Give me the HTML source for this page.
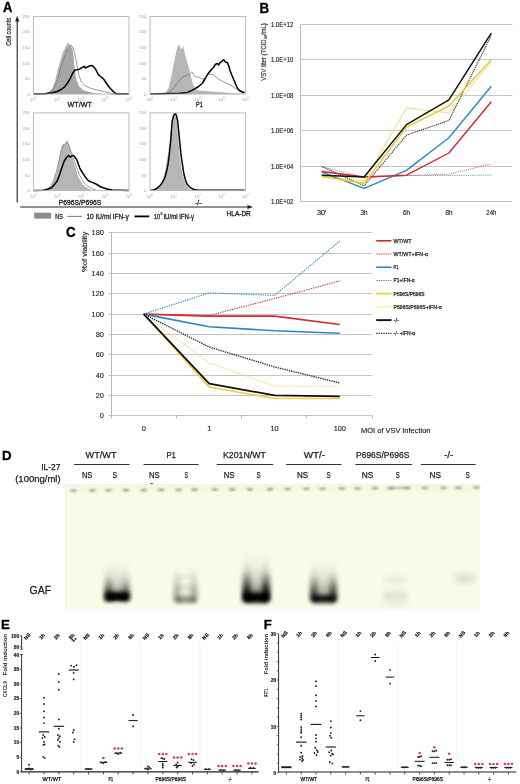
<!DOCTYPE html>
<html><head><meta charset="utf-8"><title>Figure</title>
<style>
html,body{margin:0;padding:0;background:#fff;}
body{width:520px;height:784px;overflow:hidden;}
svg{display:block;will-change:transform;filter:blur(0.3px);}
text{font-family:"Liberation Sans", sans-serif;}
</style></head><body>
<svg width="520" height="784" viewBox="0 0 520 784">
<rect x="0" y="0" width="520" height="784" fill="#fff"/>
<text x="3" y="12.3" font-size="13.8" fill="#000" stroke="#000" stroke-width="0.35" font-weight="bold" textLength="9.4" lengthAdjust="spacingAndGlyphs">A</text>
<line x1="17.2" y1="20" x2="17.2" y2="202.4" stroke="#222" stroke-width="1.1"/>
<polygon points="17.2,15.8 15.1,21.5 19.3,21.5" fill="#222"/>
<text x="11.2" y="31.9" font-size="7.2" fill="#222" stroke="#222" stroke-width="0.2" text-anchor="middle" textLength="27.8" lengthAdjust="spacingAndGlyphs" transform="rotate(-90 11.2 31.9)">Cell counts</text>
<line x1="20.2" y1="207" x2="249" y2="207" stroke="#222" stroke-width="1.1"/>
<polygon points="253,207 247.5,204.9 247.5,209.1" fill="#222"/>
<text x="238.7" y="216.4" font-size="6.8" fill="#222" stroke="#222" stroke-width="0.3" text-anchor="middle" textLength="24.2" lengthAdjust="spacingAndGlyphs">HLA-DR</text>
<text x="29.8" y="17.9" font-size="4.4" fill="#a0a0a0" text-anchor="end">250</text>
<text x="29.8" y="33.44" font-size="4.4" fill="#a0a0a0" text-anchor="end">200</text>
<text x="29.8" y="48.98" font-size="4.4" fill="#a0a0a0" text-anchor="end">150</text>
<text x="29.8" y="64.52" font-size="4.4" fill="#a0a0a0" text-anchor="end">100</text>
<text x="29.8" y="80.06" font-size="4.4" fill="#a0a0a0" text-anchor="end">50</text>
<text x="29.8" y="95.6" font-size="4.4" fill="#a0a0a0" text-anchor="end">0</text>
<text x="32.4" y="101.1" font-size="4.2" fill="#a0a0a0" text-anchor="middle">10</text>
<text x="34.8" y="99.3" font-size="2.8" fill="#a0a0a0">0</text>
<text x="56.3" y="101.1" font-size="4.2" fill="#a0a0a0" text-anchor="middle">10</text>
<text x="58.7" y="99.3" font-size="2.8" fill="#a0a0a0">1</text>
<text x="80.2" y="101.1" font-size="4.2" fill="#a0a0a0" text-anchor="middle">10</text>
<text x="82.6" y="99.3" font-size="2.8" fill="#a0a0a0">2</text>
<text x="104.1" y="101.1" font-size="4.2" fill="#a0a0a0" text-anchor="middle">10</text>
<text x="106.5" y="99.3" font-size="2.8" fill="#a0a0a0">3</text>
<text x="128" y="101.1" font-size="4.2" fill="#a0a0a0" text-anchor="middle">10</text>
<text x="130.4" y="99.3" font-size="2.8" fill="#a0a0a0">4</text>
<text x="146.4" y="17.9" font-size="4.4" fill="#a0a0a0" text-anchor="end">250</text>
<text x="146.4" y="33.44" font-size="4.4" fill="#a0a0a0" text-anchor="end">200</text>
<text x="146.4" y="48.98" font-size="4.4" fill="#a0a0a0" text-anchor="end">150</text>
<text x="146.4" y="64.52" font-size="4.4" fill="#a0a0a0" text-anchor="end">100</text>
<text x="146.4" y="80.06" font-size="4.4" fill="#a0a0a0" text-anchor="end">50</text>
<text x="146.4" y="95.6" font-size="4.4" fill="#a0a0a0" text-anchor="end">0</text>
<text x="149" y="101.1" font-size="4.2" fill="#a0a0a0" text-anchor="middle">10</text>
<text x="151.4" y="99.3" font-size="2.8" fill="#a0a0a0">0</text>
<text x="172.9" y="101.1" font-size="4.2" fill="#a0a0a0" text-anchor="middle">10</text>
<text x="175.3" y="99.3" font-size="2.8" fill="#a0a0a0">1</text>
<text x="196.8" y="101.1" font-size="4.2" fill="#a0a0a0" text-anchor="middle">10</text>
<text x="199.2" y="99.3" font-size="2.8" fill="#a0a0a0">2</text>
<text x="220.7" y="101.1" font-size="4.2" fill="#a0a0a0" text-anchor="middle">10</text>
<text x="223.1" y="99.3" font-size="2.8" fill="#a0a0a0">3</text>
<text x="244.6" y="101.1" font-size="4.2" fill="#a0a0a0" text-anchor="middle">10</text>
<text x="247" y="99.3" font-size="2.8" fill="#a0a0a0">4</text>
<text x="29.8" y="114.4" font-size="4.4" fill="#a0a0a0" text-anchor="end">250</text>
<text x="29.8" y="129.94" font-size="4.4" fill="#a0a0a0" text-anchor="end">200</text>
<text x="29.8" y="145.48" font-size="4.4" fill="#a0a0a0" text-anchor="end">150</text>
<text x="29.8" y="161.02" font-size="4.4" fill="#a0a0a0" text-anchor="end">100</text>
<text x="29.8" y="176.56" font-size="4.4" fill="#a0a0a0" text-anchor="end">50</text>
<text x="29.8" y="192.1" font-size="4.4" fill="#a0a0a0" text-anchor="end">0</text>
<text x="32.4" y="197.6" font-size="4.2" fill="#a0a0a0" text-anchor="middle">10</text>
<text x="34.8" y="195.8" font-size="2.8" fill="#a0a0a0">0</text>
<text x="56.3" y="197.6" font-size="4.2" fill="#a0a0a0" text-anchor="middle">10</text>
<text x="58.7" y="195.8" font-size="2.8" fill="#a0a0a0">1</text>
<text x="80.2" y="197.6" font-size="4.2" fill="#a0a0a0" text-anchor="middle">10</text>
<text x="82.6" y="195.8" font-size="2.8" fill="#a0a0a0">2</text>
<text x="104.1" y="197.6" font-size="4.2" fill="#a0a0a0" text-anchor="middle">10</text>
<text x="106.5" y="195.8" font-size="2.8" fill="#a0a0a0">3</text>
<text x="128" y="197.6" font-size="4.2" fill="#a0a0a0" text-anchor="middle">10</text>
<text x="130.4" y="195.8" font-size="2.8" fill="#a0a0a0">4</text>
<text x="146.4" y="114.4" font-size="4.4" fill="#a0a0a0" text-anchor="end">250</text>
<text x="146.4" y="129.94" font-size="4.4" fill="#a0a0a0" text-anchor="end">200</text>
<text x="146.4" y="145.48" font-size="4.4" fill="#a0a0a0" text-anchor="end">150</text>
<text x="146.4" y="161.02" font-size="4.4" fill="#a0a0a0" text-anchor="end">100</text>
<text x="146.4" y="176.56" font-size="4.4" fill="#a0a0a0" text-anchor="end">50</text>
<text x="146.4" y="192.1" font-size="4.4" fill="#a0a0a0" text-anchor="end">0</text>
<text x="149" y="197.6" font-size="4.2" fill="#a0a0a0" text-anchor="middle">10</text>
<text x="151.4" y="195.8" font-size="2.8" fill="#a0a0a0">0</text>
<text x="172.9" y="197.6" font-size="4.2" fill="#a0a0a0" text-anchor="middle">10</text>
<text x="175.3" y="195.8" font-size="2.8" fill="#a0a0a0">1</text>
<text x="196.8" y="197.6" font-size="4.2" fill="#a0a0a0" text-anchor="middle">10</text>
<text x="199.2" y="195.8" font-size="2.8" fill="#a0a0a0">2</text>
<text x="220.7" y="197.6" font-size="4.2" fill="#a0a0a0" text-anchor="middle">10</text>
<text x="223.1" y="195.8" font-size="2.8" fill="#a0a0a0">3</text>
<text x="244.6" y="197.6" font-size="4.2" fill="#a0a0a0" text-anchor="middle">10</text>
<text x="247" y="195.8" font-size="2.8" fill="#a0a0a0">4</text>
<polygon points="44.2,94.1 44.2,94.1 48,92.5 51.7,89.6 54.5,83 57.3,71 60.5,60 62.9,52.3 65.5,47 68.1,42 70,45.5 72.2,48.6 73.2,55 74,63.5 75.9,78.4 78.7,85.9 83.4,90.6 94.6,93.4 104,94.1 104,94.1" fill="#b6b6b6"/>
<polygon points="44.45,94.1 44.45,94.03 44.7,93.96 44.95,93.89 45.2,93.82 45.45,93.76 45.7,93.69 45.95,93.62 46.2,93.55 46.45,93.48 46.7,93.41 46.95,93.34 47.2,93.27 47.45,93.2 47.7,93.13 47.95,93.07 48.2,93 48.45,92.93 48.7,92.86 48.95,92.79 49.2,92.72 49.45,92.65 49.7,92.58 49.95,92.51 50.2,92.26 50.45,91.95 50.7,91.64 50.95,91.34 51.2,91.03 51.45,90.73 51.7,90.42 51.95,90.12 52.2,89.81 52.45,89.51 52.7,89.2 52.95,88.89 53.2,88.59 53.45,88.28 53.7,87.98 53.95,87.67 54.2,87.37 54.45,87.06 54.7,86.49 54.95,85.84 55.2,85.2 55.45,84.56 55.7,83.91 55.95,83.27 56.2,82.63 56.45,81.99 56.7,81.34 56.95,80.7 57.2,80.06 57.45,79.41 57.7,78.77 57.95,78.13 58.2,77.27 58.45,76.35 58.7,75.43 58.95,74.52 59.2,73.6 59.45,72.68 59.7,71.77 59.95,70.85 60.2,69.93 60.45,69.02 60.7,68.1 60.95,67.18 61.2,66.36 61.45,65.56 61.7,64.76 61.95,63.96 62.2,63.16 62.45,62.36 62.7,61.56 62.95,60.76 63.2,59.96 63.45,59.16 63.7,58.44 63.95,57.74 64.2,57.04 64.45,56.34 64.7,55.64 64.95,54.94 65.2,54.24 65.45,53.54 65.7,52.84 65.95,52.14 66.2,51.64 66.45,51.19 66.7,50.74 66.95,50.29 67.2,49.84 67.45,49.39 67.7,48.94 67.95,48.49 68.2,48.04 68.45,47.59 68.7,47.31 68.95,47.07 69.2,46.83 69.45,46.59 69.7,46.34 69.95,46.1 70.2,45.86 70.45,46.13 70.7,46.49 70.95,46.84 71.2,47.19 71.45,47.54 71.7,47.9 71.95,48.25 72.2,48.6 72.45,50.2 72.7,51.8 72.95,53.4 73.2,55 73.45,57.66 73.7,60.31 73.95,62.97 74.2,65.07 74.45,67.03 74.7,68.99 74.95,70.95 75.2,72.91 75.45,74.87 75.7,76.83 75.95,78.53 76.2,79.2 76.45,79.87 76.7,80.54 76.95,81.21 77.2,81.88 77.45,82.55 77.7,83.22 77.95,83.89 78.2,84.56 78.45,85.23 78.7,85.9 78.95,86.15 79.2,86.4 79.45,86.65 79.7,86.9 79.95,87.15 80.2,87.4 80.45,87.65 80.7,87.9 80.95,88.15 81.2,88.4 81.45,88.65 81.7,88.9 81.95,89.15 82.2,89.4 82.45,89.65 82.7,89.9 82.95,90.15 83.2,90.4 83.45,90.61 83.7,90.67 83.95,90.74 84.2,90.8 84.45,90.86 84.7,90.92 84.95,90.99 85.2,91.05 85.45,91.11 85.7,91.17 85.95,91.24 86.2,91.3 86.45,91.36 86.7,91.42 86.95,91.49 87.2,91.55 87.45,91.61 87.7,91.67 87.95,91.74 88.2,91.8 88.45,91.86 88.7,91.92 88.95,91.99 89.2,92.05 89.45,92.11 89.7,92.17 89.95,92.24 90.2,92.3 90.45,92.36 90.7,92.42 90.95,92.49 91.2,92.55 91.45,92.61 91.7,92.68 91.95,92.74 92.2,92.8 92.45,92.86 92.7,92.93 92.95,92.99 93.2,93.05 93.45,93.11 93.7,93.18 93.95,93.24 94.2,93.3 94.45,93.36 94.7,93.41 94.95,93.43 95.2,93.44 95.45,93.46 95.7,93.48 95.95,93.5 96.2,93.52 96.45,93.54 96.7,93.56 96.95,93.58 97.2,93.59 97.45,93.61 97.7,93.63 97.95,93.65 98.2,93.67 98.45,93.69 98.7,93.71 98.95,93.72 99.2,93.74 99.45,93.76 99.7,93.78 99.95,93.8 100.2,93.82 100.45,93.84 100.7,93.85 100.95,93.87 101.2,93.89 101.45,93.91 101.7,93.93 101.95,93.95 102.2,93.97 102.45,93.98 102.7,94 102.95,94.02 103.2,94.04 103.45,94.06 103.7,94.08 103.95,94.1 103.95,94.1" fill="#a6a6a6"/>
<polyline points="44.2,94.1 50,92.5 54.5,87 58,78 61,67 63.5,59 66,52 68.5,47.5 71.2,44.9 73,48 74.5,53 75.9,59.8 77.3,67 78.7,74.7 81.5,82.2 85,85.6 89,87.8 96,89.8 104,91.5 110,93 115,94.1" fill="none" stroke="#6e6e6e" stroke-width="0.7" stroke-linejoin="round"/>
<polyline points="33.6,94.1 45,93.8 52,92.8 57.3,91.5 61,89.5 64.7,86.8 67.5,83 70.3,78.4 72.5,73.5 75,70 77.3,69.8 79.6,69.1 82,67.5 84.3,66.3 85.5,68 87.1,67.2 89.5,66 91.8,65.4 93.7,66.8 95.5,69.1 97,72 98.3,74.7 100.5,76.5 103,78.4 105.3,81.5 107.6,85 110,88 112.3,90.6 115,93 117,94.1 128.8,94.1" fill="none" stroke="#000" stroke-width="1.5" stroke-linejoin="round"/>
<polygon points="164.9,94.1 164.9,94.1 168.7,87.8 170.5,80 172.4,71 174.3,61 176.1,52.3 177.5,47 178.9,43.9 180.3,47.5 181.7,49.5 183.2,45.8 184.3,51 185.4,56 187.3,62.5 189.2,69.1 191,76.5 192.9,84 195.7,89.6 198.5,90.6 206,91 215,91.8 224.6,92.4 235,93.2 243.3,94.1 243.3,94.1" fill="#b6b6b6"/>
<polyline points="164.9,94.1 168.7,92.5 172.4,89.6 175.2,86 178,82.2 180.8,79 183.6,76.6 186.4,75.5 189.2,74.7 190.6,73 192,71.9 193.4,74.5 194.8,76.6 196.6,77 198.5,77.2 201.3,78.5 204.1,79.4 205.5,77 206.9,74.7 210,74.2 213.4,74.7 216.2,77 219,79.4 221.8,80.8 224.6,82.2 228.3,84 232,85.9 235,88 237.7,89.6 240.5,91.5 243.3,92.5 245,93" fill="none" stroke="#6e6e6e" stroke-width="0.7" stroke-linejoin="round"/>
<polyline points="150.2,94.1 170,93.6 180,93.2 187.3,92.4 191,90.8 194.8,88.9 198.5,86.5 202.2,83.5 205,79 207.8,74 210.6,70.5 213.4,67.5 215.3,64.5 217.2,63.5 218.6,65 220,62.6 221.8,61.5 223.7,59.8 225.5,62 227.4,62.6 228.8,66 230.2,71 232,75.5 234,80.3 235.8,84.5 237.7,88.7 239.5,90.5 241.4,91.5 243,92.5 244.6,92.2" fill="none" stroke="#000" stroke-width="1.5" stroke-linejoin="round"/>
<polygon points="44.2,190.5 44.2,190.5 48,188.5 51.5,185.4 54,180 56.2,173.8 57.4,168 58.5,162.3 59.7,155.5 60.8,149.6 61.8,146 62.5,144.4 64,143.8 65.5,144.2 66.5,141.5 67.1,138.5 67.8,142 68.8,144.4 70,148 71.2,153 73,159 74.6,164.6 76.3,170.5 78,176.2 80.3,180.5 82.7,184.2 85.5,186.8 88.5,188.8 92,190.5 92,190.5" fill="#b6b6b6"/>
<polyline points="46,190.5 50,187.5 53.5,181 56.5,171 59,160 61,151 63,146 65,143.5 67,142 69,145.5 71,151 73,157 75,163 77.5,170 79.6,175 82,179.5 84.5,183 87.1,185.8 90,187.8 93,189 97,190.5" fill="none" stroke="#7a7a7a" stroke-width="0.7" stroke-linejoin="round"/>
<polyline points="33.6,190.4 42,190.2 44.6,190 48,189 51.5,187.7 54.5,184.5 57.3,180.8 59.5,175 61.3,169.2 62.8,165 64.2,161.2 66.2,158 68.3,155.4 69.5,156.5 70.6,157.1 72,155.8 73.5,155.4 75.2,157.5 76.9,160 78.3,164 79.8,168.1 81.5,171 83.3,173.8 85.3,177 87.3,179.6 89,181 90.8,181.9 93,182.6 95.4,183.7 97.7,185 100,186.5 103,187.8 107,189 112,190 128.8,190.4" fill="none" stroke="#000" stroke-width="1.5" stroke-linejoin="round"/>
<polygon points="153,190.5 153,190.5 156,189 159,186.5 161.5,183 163.5,178 165.5,171 167,163 168.3,155 169.5,146 170.5,136 171.5,126 172.5,119 173.5,115.5 174.5,114.2 175.5,116.5 176.5,121 177.3,128 178,136 178.7,145 179.5,153 180.3,160 181.3,167 182.5,173.5 184,179 185.5,183.5 187.5,187 190,189.3 193,190.5 193,190.5" fill="#b6b6b6"/>
<polyline points="154.5,190.5 158,188 161,184.5 163.5,179 165.5,172 167.2,163 168.7,153 170,142 171.2,131 172.4,121 173.6,116 174.8,114 176,117 177.2,123 178.2,131 179.1,140 180,149 181,158 182,165 183.3,172 185,178.5 187,183.5 189.5,187 192.5,189.3 196,190.5" fill="none" stroke="#888" stroke-width="0.7" stroke-linejoin="round"/>
<polyline points="150.2,190.4 154.3,189.7 157,188.2 159.8,185.9 162,183 164.1,179.4 165.5,175.5 166.8,170.7 168,164.5 169,157.7 169.8,150 170.6,142.5 171.4,131 172.2,120.8 173.5,116 174.5,114 175.5,113.6 176.5,115.5 177.7,120.8 178.5,129 179.3,137.1 180.1,145 180.9,153.4 181.7,159 182.5,164.2 183.3,170 184.2,175.1 185.5,180 186.9,183.8 189,186.5 191.2,188.1 194,189.5 197.7,190.3 244.6,190.3" fill="none" stroke="#000" stroke-width="1.4" stroke-linejoin="round"/>
<rect x="33.4" y="16.4" width="95.6" height="77.7" fill="none" stroke="#b4b4b4" stroke-width="0.9"/>
<rect x="150" y="16.4" width="95.6" height="77.7" fill="none" stroke="#b4b4b4" stroke-width="0.9"/>
<rect x="33.4" y="112.9" width="95.6" height="77.7" fill="none" stroke="#b4b4b4" stroke-width="0.9"/>
<rect x="150" y="112.9" width="95.6" height="77.7" fill="none" stroke="#b4b4b4" stroke-width="0.9"/>
<text x="79.7" y="107.4" font-size="7.2" fill="#222" stroke="#222" stroke-width="0.3" text-anchor="middle" textLength="24.4" lengthAdjust="spacingAndGlyphs">WT/WT</text>
<text x="199.4" y="107.4" font-size="7.2" fill="#222" stroke="#222" stroke-width="0.3" text-anchor="middle" textLength="6.6" lengthAdjust="spacingAndGlyphs">P1</text>
<text x="80" y="205" font-size="7.2" fill="#222" stroke="#222" stroke-width="0.3" text-anchor="middle" textLength="42.5" lengthAdjust="spacingAndGlyphs">P696S/P696S</text>
<text x="198.2" y="205" font-size="7.2" fill="#222" stroke="#222" stroke-width="0.3" text-anchor="middle" textLength="6.5" lengthAdjust="spacingAndGlyphs">-/-</text>
<rect x="34.1" y="212.7" width="17.1" height="5.9" fill="#8c8c8c"/>
<text x="55.3" y="218.6" font-size="7.2" fill="#222" stroke="#222" stroke-width="0.3" textLength="7.4" lengthAdjust="spacingAndGlyphs">NS</text>
<line x1="67.3" y1="216.4" x2="82" y2="216.4" stroke="#444" stroke-width="0.7"/>
<text x="86.4" y="218.6" font-size="7.2" fill="#222" stroke="#222" stroke-width="0.3" textLength="42.4" lengthAdjust="spacingAndGlyphs">10 IU/ml IFN-γ</text>
<line x1="134.5" y1="216.4" x2="149.2" y2="216.4" stroke="#000" stroke-width="1.8"/>
<text x="154.1" y="218.6" font-size="7.2" fill="#222" stroke="#222" stroke-width="0.3" textLength="6" lengthAdjust="spacingAndGlyphs">10</text>
<text x="160.3" y="215.2" font-size="4" fill="#222" stroke="#222" stroke-width="0.2">3</text>
<text x="163.4" y="218.6" font-size="7.2" fill="#222" stroke="#222" stroke-width="0.3" textLength="30.6" lengthAdjust="spacingAndGlyphs">IU/ml IFN-γ</text>
<text x="259.6" y="12.6" font-size="13.8" fill="#000" stroke="#000" stroke-width="0.35" font-weight="bold" textLength="9.6" lengthAdjust="spacingAndGlyphs">B</text>
<line x1="300.5" y1="24.5" x2="512.4" y2="24.5" stroke="#c6c6c6" stroke-width="1"/>
<text x="293.3" y="26.9" font-size="6.8" fill="#222" stroke="#222" stroke-width="0.15" text-anchor="end" textLength="22.4" lengthAdjust="spacingAndGlyphs">1.0E+12</text>
<line x1="300.5" y1="59.5" x2="512.4" y2="59.5" stroke="#c6c6c6" stroke-width="1"/>
<text x="293.3" y="61.9" font-size="6.8" fill="#222" stroke="#222" stroke-width="0.15" text-anchor="end" textLength="22.4" lengthAdjust="spacingAndGlyphs">1.0E+10</text>
<line x1="300.5" y1="95.5" x2="512.4" y2="95.5" stroke="#c6c6c6" stroke-width="1"/>
<text x="293.3" y="97.9" font-size="6.8" fill="#222" stroke="#222" stroke-width="0.15" text-anchor="end" textLength="22.4" lengthAdjust="spacingAndGlyphs">1.0E+08</text>
<line x1="300.5" y1="130.5" x2="512.4" y2="130.5" stroke="#c6c6c6" stroke-width="1"/>
<text x="293.3" y="132.9" font-size="6.8" fill="#222" stroke="#222" stroke-width="0.15" text-anchor="end" textLength="22.4" lengthAdjust="spacingAndGlyphs">1.0E+06</text>
<line x1="300.5" y1="166.5" x2="512.4" y2="166.5" stroke="#c6c6c6" stroke-width="1"/>
<text x="293.3" y="168.9" font-size="6.8" fill="#222" stroke="#222" stroke-width="0.15" text-anchor="end" textLength="22.4" lengthAdjust="spacingAndGlyphs">1.0E+04</text>
<line x1="300.5" y1="201.5" x2="512.4" y2="201.5" stroke="#c6c6c6" stroke-width="1"/>
<text x="293.3" y="203.9" font-size="6.8" fill="#222" stroke="#222" stroke-width="0.15" text-anchor="end" textLength="22.4" lengthAdjust="spacingAndGlyphs">1.0E+02</text>
<line x1="300.5" y1="24.5" x2="300.5" y2="202" stroke="#bdbdbd" stroke-width="1"/>
<text x="0" y="0" font-size="6.8" fill="#222" stroke="#222" stroke-width="0.12" transform="translate(265.9 52) rotate(-90)" text-anchor="middle" textLength="57.6" lengthAdjust="spacingAndGlyphs">VSV titer (TCID<tspan font-size="4.2" dy="1.5">50</tspan><tspan dy="-1.5">/mL)</tspan></text>
<text x="321.7" y="215.2" font-size="6.8" fill="#222" stroke="#222" stroke-width="0.15" text-anchor="middle" textLength="9.5" lengthAdjust="spacingAndGlyphs">30'</text>
<text x="364.1" y="215.2" font-size="6.8" fill="#222" stroke="#222" stroke-width="0.15" text-anchor="middle" textLength="7" lengthAdjust="spacingAndGlyphs">3h</text>
<text x="406.5" y="215.2" font-size="6.8" fill="#222" stroke="#222" stroke-width="0.15" text-anchor="middle" textLength="7" lengthAdjust="spacingAndGlyphs">6h</text>
<text x="448.9" y="215.2" font-size="6.8" fill="#222" stroke="#222" stroke-width="0.15" text-anchor="middle" textLength="7" lengthAdjust="spacingAndGlyphs">8h</text>
<text x="491.3" y="215.2" font-size="6.8" fill="#222" stroke="#222" stroke-width="0.15" text-anchor="middle" textLength="10" lengthAdjust="spacingAndGlyphs">24h</text>
<polyline points="321.7,166.8 364.1,177.2 406.5,175.5 448.9,175.5 491.3,175.2" fill="none" stroke="#3a9ac9" stroke-width="0.9" stroke-linejoin="round" stroke-dasharray="1.1 1.1" stroke-linecap="butt"/>
<polyline points="321.7,170.9 364.1,177.2 406.5,175.5 448.9,174.2 491.3,163.9" fill="none" stroke="#c8505a" stroke-width="0.9" stroke-linejoin="round" stroke-dasharray="1.1 1.1" stroke-linecap="butt"/>
<polyline points="321.7,176.2 364.1,181 406.5,107.9 448.9,113 491.3,62" fill="none" stroke="#eee09a" stroke-width="1.1" stroke-linejoin="round"/>
<polyline points="321.7,166.4 364.1,185.8 406.5,135.2 448.9,120.4 491.3,35.5" fill="none" stroke="#222" stroke-width="1.1" stroke-linejoin="round" stroke-dasharray="1.1 0.9" stroke-linecap="butt"/>
<polyline points="321.7,172.2 364.1,188.4 406.5,170.4 448.9,137.7 491.3,86.2" fill="none" stroke="#2a88c0" stroke-width="1.4" stroke-linejoin="round"/>
<polyline points="321.7,171.5 364.1,177 406.5,175.2 448.9,153 491.3,101.8" fill="none" stroke="#d8262a" stroke-width="1.4" stroke-linejoin="round"/>
<polyline points="321.7,176.5 364.1,183.4 406.5,127.1 448.9,106 491.3,59.8" fill="none" stroke="#eccb35" stroke-width="1.6" stroke-linejoin="round"/>
<polyline points="321.7,175.3 364.1,177 406.5,124.6 448.9,99.8 491.3,33.1" fill="none" stroke="#111" stroke-width="1.5" stroke-linejoin="round"/>
<text x="66" y="237.2" font-size="13.8" fill="#000" stroke="#000" stroke-width="0.35" font-weight="bold" textLength="9.6" lengthAdjust="spacingAndGlyphs">C</text>
<line x1="108.5" y1="415.5" x2="372.3" y2="415.5" stroke="#c4c4c4" stroke-width="1"/>
<text x="103.9" y="418.1" font-size="7.4" fill="#222" stroke="#222" stroke-width="0.12" text-anchor="end">0</text>
<line x1="108.5" y1="395.5" x2="372.3" y2="395.5" stroke="#c4c4c4" stroke-width="1"/>
<text x="103.9" y="398.1" font-size="7.4" fill="#222" stroke="#222" stroke-width="0.12" text-anchor="end">20</text>
<line x1="108.5" y1="375.5" x2="372.3" y2="375.5" stroke="#c4c4c4" stroke-width="1"/>
<text x="103.9" y="378.1" font-size="7.4" fill="#222" stroke="#222" stroke-width="0.12" text-anchor="end">40</text>
<line x1="108.5" y1="354.5" x2="372.3" y2="354.5" stroke="#c4c4c4" stroke-width="1"/>
<text x="103.9" y="357.1" font-size="7.4" fill="#222" stroke="#222" stroke-width="0.12" text-anchor="end">60</text>
<line x1="108.5" y1="334.5" x2="372.3" y2="334.5" stroke="#c4c4c4" stroke-width="1"/>
<text x="103.9" y="337.1" font-size="7.4" fill="#222" stroke="#222" stroke-width="0.12" text-anchor="end">80</text>
<line x1="108.5" y1="314.5" x2="372.3" y2="314.5" stroke="#c4c4c4" stroke-width="1"/>
<text x="103.9" y="317.1" font-size="7.4" fill="#222" stroke="#222" stroke-width="0.12" text-anchor="end">100</text>
<line x1="108.5" y1="293.5" x2="372.3" y2="293.5" stroke="#c4c4c4" stroke-width="1"/>
<text x="103.9" y="296.1" font-size="7.4" fill="#222" stroke="#222" stroke-width="0.12" text-anchor="end">120</text>
<line x1="108.5" y1="273.5" x2="372.3" y2="273.5" stroke="#c4c4c4" stroke-width="1"/>
<text x="103.9" y="276.1" font-size="7.4" fill="#222" stroke="#222" stroke-width="0.12" text-anchor="end">140</text>
<line x1="108.5" y1="253.5" x2="372.3" y2="253.5" stroke="#c4c4c4" stroke-width="1"/>
<text x="103.9" y="256.1" font-size="7.4" fill="#222" stroke="#222" stroke-width="0.12" text-anchor="end">160</text>
<line x1="108.5" y1="232.5" x2="372.3" y2="232.5" stroke="#c4c4c4" stroke-width="1"/>
<text x="103.9" y="235.1" font-size="7.4" fill="#222" stroke="#222" stroke-width="0.12" text-anchor="end">180</text>
<line x1="111.5" y1="232.5" x2="111.5" y2="418" stroke="#b8b8b8" stroke-width="1"/>
<line x1="111.5" y1="415.5" x2="111.5" y2="418.5" stroke="#b8b8b8" stroke-width="1"/>
<line x1="176.5" y1="415.5" x2="176.5" y2="418.5" stroke="#b8b8b8" stroke-width="1"/>
<line x1="241.5" y1="415.5" x2="241.5" y2="418.5" stroke="#b8b8b8" stroke-width="1"/>
<line x1="306.5" y1="415.5" x2="306.5" y2="418.5" stroke="#b8b8b8" stroke-width="1"/>
<line x1="372.5" y1="415.5" x2="372.5" y2="418.5" stroke="#b8b8b8" stroke-width="1"/>
<text x="143.7" y="431" font-size="7.4" fill="#222" stroke="#222" stroke-width="0.12" text-anchor="middle">0</text>
<text x="209.2" y="431" font-size="7.4" fill="#222" stroke="#222" stroke-width="0.12" text-anchor="middle">1</text>
<text x="274.6" y="431" font-size="7.4" fill="#222" stroke="#222" stroke-width="0.12" text-anchor="middle">10</text>
<text x="339.8" y="431" font-size="7.4" fill="#222" stroke="#222" stroke-width="0.12" text-anchor="middle">100</text>
<text x="361" y="433.2" font-size="7.2" fill="#222" stroke="#222" stroke-width="0.15" textLength="69.5" lengthAdjust="spacingAndGlyphs">MOI of VSV infection</text>
<text x="86.7" y="251.9" font-size="7" fill="#222" stroke="#222" stroke-width="0.15" text-anchor="middle" textLength="40.4" lengthAdjust="spacingAndGlyphs" transform="rotate(-90 86.7 251.9)">%of viability</text>
<polyline points="143.7,314.1 209.2,292.87 274.6,295.41 339.8,240.95" fill="none" stroke="#2f86c2" stroke-width="1.1" stroke-linejoin="round" stroke-dasharray="1.3 1.1"/>
<polyline points="143.7,314.1 209.2,315.42 274.6,298.56 339.8,280.88" fill="none" stroke="#d0303a" stroke-width="1.1" stroke-linejoin="round" stroke-dasharray="1.3 1.1"/>
<polyline points="143.7,314.1 209.2,316.13 274.6,316.13 339.8,324.56" fill="none" stroke="#d42a2a" stroke-width="1.6" stroke-linejoin="round"/>
<polyline points="143.7,314.1 209.2,326.8 274.6,330.76 339.8,333.2" fill="none" stroke="#2a86c2" stroke-width="1.6" stroke-linejoin="round"/>
<polyline points="143.7,314.1 209.2,347.02 274.6,366.93 339.8,382.98" fill="none" stroke="#1a1a1a" stroke-width="1.3" stroke-linejoin="round" stroke-dasharray="1.3 1.0"/>
<polyline points="143.7,314.1 209.2,362.97 274.6,386.24 339.8,386.24" fill="none" stroke="#ead67a" stroke-width="1.1" stroke-linejoin="round" stroke-dasharray="1.3 1.1"/>
<polyline points="143.7,314.1 209.2,387.05 274.6,398.43 339.8,398.43" fill="none" stroke="#ecce45" stroke-width="1.6" stroke-linejoin="round"/>
<polyline points="143.7,314.1 209.2,383.7 274.6,395.38 339.8,396.29" fill="none" stroke="#111" stroke-width="1.8" stroke-linejoin="round"/>
<line x1="376.2" y1="240.8" x2="391.5" y2="240.8" stroke="#d42a2a" stroke-width="1.6"/>
<text x="393.6" y="242.8" font-size="5.7" fill="#222" stroke="#222" stroke-width="0.25" textLength="18" lengthAdjust="spacingAndGlyphs">WT/WT</text>
<line x1="376.2" y1="254.02" x2="391.5" y2="254.02" stroke="#d0303a" stroke-width="1.1" stroke-dasharray="1.3 1.1"/>
<text x="393.6" y="256.02" font-size="5.7" fill="#222" stroke="#222" stroke-width="0.25" textLength="34.4" lengthAdjust="spacingAndGlyphs">WT/WT+IFN-α</text>
<line x1="376.2" y1="267.24" x2="391.5" y2="267.24" stroke="#2a86c2" stroke-width="1.6"/>
<text x="393.6" y="269.24" font-size="5.7" fill="#222" stroke="#222" stroke-width="0.25" textLength="5" lengthAdjust="spacingAndGlyphs">P1</text>
<line x1="376.2" y1="280.46" x2="391.5" y2="280.46" stroke="#2f86c2" stroke-width="1.1" stroke-dasharray="1.3 1.1"/>
<text x="393.6" y="282.46" font-size="5.7" fill="#222" stroke="#222" stroke-width="0.25" textLength="21" lengthAdjust="spacingAndGlyphs">P1+IFN-α</text>
<line x1="376.2" y1="293.68" x2="391.5" y2="293.68" stroke="#eccb35" stroke-width="1.7"/>
<text x="393.6" y="295.68" font-size="5.7" fill="#222" stroke="#222" stroke-width="0.25" textLength="31" lengthAdjust="spacingAndGlyphs">P696S/P696S</text>
<line x1="376.2" y1="306.9" x2="391.5" y2="306.9" stroke="#efd75a" stroke-width="1.1" stroke-dasharray="1.3 1.1"/>
<text x="393.6" y="308.9" font-size="5.7" fill="#222" stroke="#222" stroke-width="0.25" textLength="48" lengthAdjust="spacingAndGlyphs">P696S/P696S+IFN-α</text>
<line x1="376.2" y1="320.12" x2="391.5" y2="320.12" stroke="#111" stroke-width="1.9"/>
<text x="393.6" y="322.12" font-size="5.7" fill="#222" stroke="#222" stroke-width="0.25" textLength="5.6" lengthAdjust="spacingAndGlyphs">-/-</text>
<line x1="376.2" y1="333.34" x2="391.5" y2="333.34" stroke="#222" stroke-width="1.1" stroke-dasharray="1.3 1.1"/>
<text x="393.6" y="335.34" font-size="5.7" fill="#222" stroke="#222" stroke-width="0.25" textLength="21.6" lengthAdjust="spacingAndGlyphs">-/- +IFN-α</text>
<text x="2" y="460" font-size="13.6" fill="#000" stroke="#000" stroke-width="0.35" font-weight="bold" textLength="9.6" lengthAdjust="spacingAndGlyphs">D</text>
<text x="60.6" y="470.4" font-size="9" fill="#222" stroke="#222" stroke-width="0.25" text-anchor="end" textLength="19.4" lengthAdjust="spacingAndGlyphs">IL-27</text>
<text x="60.6" y="481.6" font-size="9" fill="#222" stroke="#222" stroke-width="0.25" text-anchor="end" textLength="45.4" lengthAdjust="spacingAndGlyphs">(100ng/ml)</text>
<text x="85.6" y="458.3" font-size="8.9" fill="#222" stroke="#222" stroke-width="0.25" textLength="30.9" lengthAdjust="spacingAndGlyphs">WT/WT</text>
<line x1="74" y1="464.5" x2="129.5" y2="464.5" stroke="#333" stroke-width="1"/>
<text x="82" y="477.6" font-size="9" fill="#222" stroke="#222" stroke-width="0.25" textLength="10.3" lengthAdjust="spacingAndGlyphs">NS</text>
<text x="112.5" y="477.6" font-size="9" fill="#222" stroke="#222" stroke-width="0.25" textLength="4.5" lengthAdjust="spacingAndGlyphs">S</text>
<text x="166.4" y="458.3" font-size="8.9" fill="#222" stroke="#222" stroke-width="0.25" textLength="9.4" lengthAdjust="spacingAndGlyphs">P1</text>
<line x1="143.5" y1="464.5" x2="198.7" y2="464.5" stroke="#333" stroke-width="1"/>
<text x="148.9" y="477.6" font-size="9" fill="#222" stroke="#222" stroke-width="0.25" textLength="10.7" lengthAdjust="spacingAndGlyphs">NS</text>
<text x="184.4" y="477.6" font-size="9" fill="#222" stroke="#222" stroke-width="0.25" textLength="3.5" lengthAdjust="spacingAndGlyphs">S</text>
<text x="222.9" y="458.3" font-size="8.9" fill="#222" stroke="#222" stroke-width="0.25" textLength="43.1" lengthAdjust="spacingAndGlyphs">K201N/WT</text>
<line x1="216.7" y1="464.5" x2="273.2" y2="464.5" stroke="#333" stroke-width="1"/>
<text x="223.7" y="477.6" font-size="9" fill="#222" stroke="#222" stroke-width="0.25" textLength="10.8" lengthAdjust="spacingAndGlyphs">NS</text>
<text x="256.5" y="477.6" font-size="9" fill="#222" stroke="#222" stroke-width="0.25" textLength="4.1" lengthAdjust="spacingAndGlyphs">S</text>
<text x="303.7" y="458.3" font-size="8.9" fill="#222" stroke="#222" stroke-width="0.25" textLength="21.5" lengthAdjust="spacingAndGlyphs">WT/-</text>
<line x1="286.2" y1="464.5" x2="341.5" y2="464.5" stroke="#333" stroke-width="1"/>
<text x="297" y="477.6" font-size="9" fill="#222" stroke="#222" stroke-width="0.25" textLength="11.2" lengthAdjust="spacingAndGlyphs">NS</text>
<text x="326.5" y="477.6" font-size="9" fill="#222" stroke="#222" stroke-width="0.25" textLength="4.1" lengthAdjust="spacingAndGlyphs">S</text>
<text x="356" y="458.3" font-size="8.9" fill="#222" stroke="#222" stroke-width="0.25" textLength="53.3" lengthAdjust="spacingAndGlyphs">P696S/P696S</text>
<line x1="355.4" y1="464.5" x2="412.2" y2="464.5" stroke="#333" stroke-width="1"/>
<text x="361.7" y="477.6" font-size="9" fill="#222" stroke="#222" stroke-width="0.25" textLength="11.6" lengthAdjust="spacingAndGlyphs">NS</text>
<text x="395.8" y="477.6" font-size="9" fill="#222" stroke="#222" stroke-width="0.25" textLength="4" lengthAdjust="spacingAndGlyphs">S</text>
<text x="444" y="458.3" font-size="8.9" fill="#222" stroke="#222" stroke-width="0.25" textLength="9.4" lengthAdjust="spacingAndGlyphs">-/-</text>
<line x1="420.9" y1="464.5" x2="475.7" y2="464.5" stroke="#333" stroke-width="1"/>
<text x="429.5" y="477.6" font-size="9" fill="#222" stroke="#222" stroke-width="0.25" textLength="11.5" lengthAdjust="spacingAndGlyphs">NS</text>
<text x="465.6" y="477.6" font-size="9" fill="#222" stroke="#222" stroke-width="0.25" textLength="4.3" lengthAdjust="spacingAndGlyphs">S</text>
<text x="29.6" y="593.8" font-size="11.8" fill="#222" stroke="#222" stroke-width="0.3" textLength="21.4" lengthAdjust="spacingAndGlyphs">GAF</text>
<defs><filter id="b05" x="-50%" y="-50%" width="200%" height="200%"><feGaussianBlur stdDeviation="0.8"/></filter><filter id="b1" x="-50%" y="-50%" width="200%" height="200%"><feGaussianBlur stdDeviation="1.3"/></filter><filter id="b2" x="-50%" y="-50%" width="200%" height="200%"><feGaussianBlur stdDeviation="2.0"/></filter><filter id="b3" x="-50%" y="-50%" width="200%" height="200%"><feGaussianBlur stdDeviation="3.2"/></filter><linearGradient id="smear" x1="0" y1="0" x2="0" y2="1"><stop offset="0" stop-color="#000" stop-opacity="0"/><stop offset="0.35" stop-color="#000" stop-opacity="0.08"/><stop offset="0.7" stop-color="#000" stop-opacity="0.35"/><stop offset="1" stop-color="#000" stop-opacity="1"/></linearGradient><linearGradient id="side" x1="0" y1="0" x2="0" y2="1"><stop offset="0" stop-color="#000" stop-opacity="0"/><stop offset="0.3" stop-color="#000" stop-opacity="0.08"/><stop offset="0.55" stop-color="#000" stop-opacity="0.45"/><stop offset="0.8" stop-color="#000" stop-opacity="0.88"/><stop offset="1" stop-color="#000" stop-opacity="1"/></linearGradient></defs>
<rect x="65" y="484" width="415" height="124.8" fill="#fafae9"/>
<defs><linearGradient id="topg" x1="0" y1="0" x2="0" y2="1"><stop offset="0" stop-color="#f5f5e4"/><stop offset="0.6" stop-color="#f7f7e6"/><stop offset="1" stop-color="#fafae9"/></linearGradient></defs>
<rect x="65" y="484" width="415" height="10" fill="url(#topg)"/>
<rect x="65" y="484" width="1" height="124.8" fill="#f1f1df"/>
<g filter="url(#b1)">
<ellipse cx="73.5" cy="490.6" rx="3.3" ry="1.1" fill="#3a3a2c" opacity="0.55"/>
<ellipse cx="92.3" cy="490.46" rx="3.3" ry="1.1" fill="#3a3a2c" opacity="0.55"/>
<ellipse cx="108.5" cy="490.34" rx="3.3" ry="1.1" fill="#3a3a2c" opacity="0.55"/>
<ellipse cx="126" cy="490.21" rx="3.3" ry="1.1" fill="#3a3a2c" opacity="0.55"/>
<ellipse cx="143.5" cy="490.08" rx="3.3" ry="1.1" fill="#3a3a2c" opacity="0.55"/>
<ellipse cx="161" cy="489.95" rx="3.3" ry="1.1" fill="#3a3a2c" opacity="0.55"/>
<ellipse cx="178.5" cy="489.82" rx="3.3" ry="1.1" fill="#3a3a2c" opacity="0.55"/>
<ellipse cx="194.6" cy="489.7" rx="3.3" ry="1.1" fill="#3a3a2c" opacity="0.55"/>
<ellipse cx="214.8" cy="489.55" rx="3.3" ry="1.1" fill="#3a3a2c" opacity="0.55"/>
<ellipse cx="232.3" cy="489.42" rx="3.3" ry="1.1" fill="#3a3a2c" opacity="0.55"/>
<ellipse cx="249.8" cy="489.29" rx="3.3" ry="1.1" fill="#3a3a2c" opacity="0.55"/>
<ellipse cx="270" cy="489.14" rx="3.3" ry="1.1" fill="#3a3a2c" opacity="0.55"/>
<ellipse cx="287.5" cy="489.01" rx="3.3" ry="1.1" fill="#3a3a2c" opacity="0.55"/>
<ellipse cx="306.4" cy="488.87" rx="3.3" ry="1.1" fill="#3a3a2c" opacity="0.55"/>
<ellipse cx="322.5" cy="488.75" rx="3.3" ry="1.1" fill="#3a3a2c" opacity="0.55"/>
<ellipse cx="342" cy="488.6" rx="3.3" ry="1.1" fill="#3a3a2c" opacity="0.55"/>
<ellipse cx="357.5" cy="488.49" rx="3.3" ry="1.1" fill="#3a3a2c" opacity="0.55"/>
<ellipse cx="375" cy="488.36" rx="3.3" ry="1.1" fill="#3a3a2c" opacity="0.55"/>
<ellipse cx="390.5" cy="488.24" rx="3.3" ry="1.1" fill="#3a3a2c" opacity="0.55"/>
<ellipse cx="407.5" cy="488.12" rx="3.3" ry="1.1" fill="#3a3a2c" opacity="0.55"/>
<ellipse cx="424.8" cy="487.99" rx="3.3" ry="1.1" fill="#3a3a2c" opacity="0.55"/>
<ellipse cx="443.7" cy="487.85" rx="3.3" ry="1.1" fill="#3a3a2c" opacity="0.55"/>
<ellipse cx="458.5" cy="487.74" rx="3.3" ry="1.1" fill="#3a3a2c" opacity="0.55"/>
<ellipse cx="476.5" cy="487.6" rx="3.3" ry="1.1" fill="#3a3a2c" opacity="0.55"/>
<line x1="390" y1="488" x2="408" y2="487.8" stroke="#3a3a2c" stroke-width="1.4" opacity="0.45"/>
</g>
<line x1="150" y1="483.6" x2="153" y2="483.6" stroke="#555" stroke-width="0.9"/>
<rect x="106" y="558" width="23" height="39" fill="url(#smear)" opacity="0.5" filter="url(#b3)"/>
<rect x="104.5" y="566" width="7.5" height="35" fill="url(#side)" opacity="0.75" filter="url(#b2)"/>
<rect x="122.5" y="568" width="7" height="33" fill="url(#side)" opacity="0.55" filter="url(#b2)"/>
<rect x="105" y="592" width="24.5" height="9" rx="4" fill="#000" opacity="1" filter="url(#b2)"/>
<rect x="108" y="594.5" width="19" height="5.5" rx="2" fill="#000" opacity="0.6" filter="url(#b1)"/>
<rect x="175" y="558" width="21" height="42" fill="url(#smear)" opacity="0.15" filter="url(#b3)"/>
<rect x="173.5" y="560" width="6.5" height="42" fill="url(#side)" opacity="0.3" filter="url(#b2)"/>
<rect x="191" y="560" width="6.5" height="42" fill="url(#side)" opacity="0.3" filter="url(#b2)"/>
<rect x="176" y="574.5" width="19" height="4" rx="2" fill="#000" opacity="0.05" filter="url(#b2)"/>
<rect x="176" y="585" width="19" height="4" rx="2" fill="#000" opacity="0.06" filter="url(#b2)"/>
<rect x="175.5" y="597" width="20" height="6" rx="3" fill="#000" opacity="0.42" filter="url(#b2)"/>
<rect x="244" y="552" width="25" height="42" fill="url(#smear)" opacity="0.5" filter="url(#b3)"/>
<rect x="242.5" y="558" width="8" height="43" fill="url(#side)" opacity="0.98" filter="url(#b2)"/>
<rect x="262" y="558" width="8" height="43" fill="url(#side)" opacity="0.98" filter="url(#b2)"/>
<rect x="243.5" y="592" width="25.5" height="11" rx="4" fill="#000" opacity="1" filter="url(#b2)"/>
<rect x="312" y="556" width="24" height="39" fill="url(#smear)" opacity="0.4" filter="url(#b3)"/>
<rect x="310" y="563" width="7.5" height="38" fill="url(#side)" opacity="0.7" filter="url(#b2)"/>
<rect x="329.5" y="563" width="7.5" height="38" fill="url(#side)" opacity="0.7" filter="url(#b2)"/>
<rect x="311.5" y="594.5" width="24.5" height="8.5" rx="4" fill="#000" opacity="0.92" filter="url(#b2)"/>
<rect x="383" y="566" width="24" height="38" fill="url(#smear)" opacity="0.09" filter="url(#b3)"/>
<rect x="383" y="576" width="24" height="6" rx="2" fill="#000" opacity="0.04" filter="url(#b2)"/>
<rect x="383" y="592" width="24" height="6" rx="2" fill="#000" opacity="0.04" filter="url(#b2)"/>
<ellipse cx="465" cy="578.5" rx="11" ry="5" fill="#000" opacity="0.11" filter="url(#b3)"/>
<text x="1" y="628.9" font-size="13.4" fill="#000" stroke="#000" stroke-width="0.35" font-weight="bold" textLength="8.8" lengthAdjust="spacingAndGlyphs">E</text>
<line x1="81.1" y1="641" x2="81.1" y2="771.5" stroke="#efefef" stroke-width="0.8"/>
<line x1="140.5" y1="641" x2="140.5" y2="771.5" stroke="#efefef" stroke-width="0.8"/>
<line x1="199.9" y1="641" x2="199.9" y2="771.5" stroke="#efefef" stroke-width="0.8"/>
<line x1="21.6" y1="635.5" x2="21.6" y2="649.2" stroke="#333" stroke-width="1"/>
<line x1="21.6" y1="654.5" x2="21.6" y2="772.4" stroke="#333" stroke-width="1"/>
<line x1="20.3" y1="649.2" x2="22.9" y2="649.2" stroke="#333" stroke-width="0.8"/>
<line x1="20.3" y1="654.5" x2="22.9" y2="654.5" stroke="#333" stroke-width="0.8"/>
<text x="19.2" y="637.6" font-size="4.8" fill="#222" stroke="#222" stroke-width="0.2" text-anchor="end" font-weight="bold">100</text>
<line x1="19.8" y1="635.8" x2="21.6" y2="635.8" stroke="#333" stroke-width="0.8"/>
<text x="19.2" y="648.6" font-size="4.8" fill="#222" stroke="#222" stroke-width="0.2" text-anchor="end" font-weight="bold">50</text>
<line x1="19.8" y1="646.8" x2="21.6" y2="646.8" stroke="#333" stroke-width="0.8"/>
<text x="19.2" y="773.7" font-size="4.8" fill="#222" stroke="#222" stroke-width="0.2" text-anchor="end" font-weight="bold">0</text>
<line x1="19.8" y1="771.9" x2="21.6" y2="771.9" stroke="#333" stroke-width="0.8"/>
<text x="19.2" y="759.05" font-size="4.8" fill="#222" stroke="#222" stroke-width="0.2" text-anchor="end" font-weight="bold">5</text>
<line x1="19.8" y1="757.25" x2="21.6" y2="757.25" stroke="#333" stroke-width="0.8"/>
<text x="19.2" y="744.4" font-size="4.8" fill="#222" stroke="#222" stroke-width="0.2" text-anchor="end" font-weight="bold">10</text>
<line x1="19.8" y1="742.6" x2="21.6" y2="742.6" stroke="#333" stroke-width="0.8"/>
<text x="19.2" y="729.75" font-size="4.8" fill="#222" stroke="#222" stroke-width="0.2" text-anchor="end" font-weight="bold">15</text>
<line x1="19.8" y1="727.95" x2="21.6" y2="727.95" stroke="#333" stroke-width="0.8"/>
<text x="19.2" y="715.1" font-size="4.8" fill="#222" stroke="#222" stroke-width="0.2" text-anchor="end" font-weight="bold">20</text>
<line x1="19.8" y1="713.3" x2="21.6" y2="713.3" stroke="#333" stroke-width="0.8"/>
<text x="19.2" y="700.45" font-size="4.8" fill="#222" stroke="#222" stroke-width="0.2" text-anchor="end" font-weight="bold">25</text>
<line x1="19.8" y1="698.65" x2="21.6" y2="698.65" stroke="#333" stroke-width="0.8"/>
<text x="19.2" y="685.8" font-size="4.8" fill="#222" stroke="#222" stroke-width="0.2" text-anchor="end" font-weight="bold">30</text>
<line x1="19.8" y1="684" x2="21.6" y2="684" stroke="#333" stroke-width="0.8"/>
<text x="19.2" y="671.15" font-size="4.8" fill="#222" stroke="#222" stroke-width="0.2" text-anchor="end" font-weight="bold">35</text>
<line x1="19.8" y1="669.35" x2="21.6" y2="669.35" stroke="#333" stroke-width="0.8"/>
<text x="19.2" y="656.5" font-size="4.8" fill="#222" stroke="#222" stroke-width="0.2" text-anchor="end" font-weight="bold">40</text>
<line x1="19.8" y1="654.7" x2="21.6" y2="654.7" stroke="#333" stroke-width="0.8"/>
<line x1="21.6" y1="771.9" x2="258.6" y2="771.9" stroke="#222" stroke-width="1.2"/>
<line x1="29.15" y1="771.9" x2="29.15" y2="774.6" stroke="#333" stroke-width="0.8"/>
<line x1="44" y1="771.9" x2="44" y2="774.6" stroke="#333" stroke-width="0.8"/>
<line x1="58.85" y1="771.9" x2="58.85" y2="774.6" stroke="#333" stroke-width="0.8"/>
<line x1="73.7" y1="771.9" x2="73.7" y2="774.6" stroke="#333" stroke-width="0.8"/>
<line x1="88.55" y1="771.9" x2="88.55" y2="774.6" stroke="#333" stroke-width="0.8"/>
<line x1="103.4" y1="771.9" x2="103.4" y2="774.6" stroke="#333" stroke-width="0.8"/>
<line x1="118.25" y1="771.9" x2="118.25" y2="774.6" stroke="#333" stroke-width="0.8"/>
<line x1="133.1" y1="771.9" x2="133.1" y2="774.6" stroke="#333" stroke-width="0.8"/>
<line x1="147.95" y1="771.9" x2="147.95" y2="774.6" stroke="#333" stroke-width="0.8"/>
<line x1="162.8" y1="771.9" x2="162.8" y2="774.6" stroke="#333" stroke-width="0.8"/>
<line x1="177.65" y1="771.9" x2="177.65" y2="774.6" stroke="#333" stroke-width="0.8"/>
<line x1="192.5" y1="771.9" x2="192.5" y2="774.6" stroke="#333" stroke-width="0.8"/>
<line x1="207.35" y1="771.9" x2="207.35" y2="774.6" stroke="#333" stroke-width="0.8"/>
<line x1="222.2" y1="771.9" x2="222.2" y2="774.6" stroke="#333" stroke-width="0.8"/>
<line x1="237.05" y1="771.9" x2="237.05" y2="774.6" stroke="#333" stroke-width="0.8"/>
<line x1="251.9" y1="771.9" x2="251.9" y2="774.6" stroke="#333" stroke-width="0.8"/>
<text x="51.9" y="780.5" font-size="5.5" fill="#111" stroke="#111" stroke-width="0.25" text-anchor="middle" textLength="18.8" lengthAdjust="spacingAndGlyphs">WT/WT</text>
<text x="110.8" y="780.5" font-size="5.5" fill="#111" stroke="#111" stroke-width="0.25" text-anchor="middle" textLength="4.5" lengthAdjust="spacingAndGlyphs">P1</text>
<text x="170.8" y="780.5" font-size="5.5" fill="#111" stroke="#111" stroke-width="0.25" text-anchor="middle" textLength="30.6" lengthAdjust="spacingAndGlyphs">P696S/P696S</text>
<text x="230" y="780.5" font-size="5.5" fill="#111" stroke="#111" stroke-width="0.25" text-anchor="middle" textLength="3.5" lengthAdjust="spacingAndGlyphs">-/-</text>
<text x="26.95" y="636.3" font-size="5" fill="#111" text-anchor="middle" font-weight="bold" transform="rotate(-45 26.95 636.3)" dominant-baseline="central" stroke="#111" stroke-width="0.2">NS</text>
<text x="41.8" y="636.3" font-size="5" fill="#111" text-anchor="middle" font-weight="bold" transform="rotate(-45 41.8 636.3)" dominant-baseline="central" stroke="#111" stroke-width="0.2">1h</text>
<text x="56.65" y="636.3" font-size="5" fill="#111" text-anchor="middle" font-weight="bold" transform="rotate(-45 56.65 636.3)" dominant-baseline="central" stroke="#111" stroke-width="0.2">2h</text>
<text x="71.5" y="636.3" font-size="5" fill="#111" text-anchor="middle" font-weight="bold" transform="rotate(-45 71.5 636.3)" dominant-baseline="central" stroke="#111" stroke-width="0.2">8h</text>
<text x="86.35" y="636.3" font-size="5" fill="#111" text-anchor="middle" font-weight="bold" transform="rotate(-45 86.35 636.3)" dominant-baseline="central" stroke="#111" stroke-width="0.2">NS</text>
<text x="101.2" y="636.3" font-size="5" fill="#111" text-anchor="middle" font-weight="bold" transform="rotate(-45 101.2 636.3)" dominant-baseline="central" stroke="#111" stroke-width="0.2">1h</text>
<text x="116.05" y="636.3" font-size="5" fill="#111" text-anchor="middle" font-weight="bold" transform="rotate(-45 116.05 636.3)" dominant-baseline="central" stroke="#111" stroke-width="0.2">2h</text>
<text x="130.9" y="636.3" font-size="5" fill="#111" text-anchor="middle" font-weight="bold" transform="rotate(-45 130.9 636.3)" dominant-baseline="central" stroke="#111" stroke-width="0.2">8h</text>
<text x="145.75" y="636.3" font-size="5" fill="#111" text-anchor="middle" font-weight="bold" transform="rotate(-45 145.75 636.3)" dominant-baseline="central" stroke="#111" stroke-width="0.2">NS</text>
<text x="160.6" y="636.3" font-size="5" fill="#111" text-anchor="middle" font-weight="bold" transform="rotate(-45 160.6 636.3)" dominant-baseline="central" stroke="#111" stroke-width="0.2">1h</text>
<text x="175.45" y="636.3" font-size="5" fill="#111" text-anchor="middle" font-weight="bold" transform="rotate(-45 175.45 636.3)" dominant-baseline="central" stroke="#111" stroke-width="0.2">2h</text>
<text x="190.3" y="636.3" font-size="5" fill="#111" text-anchor="middle" font-weight="bold" transform="rotate(-45 190.3 636.3)" dominant-baseline="central" stroke="#111" stroke-width="0.2">8h</text>
<text x="205.15" y="636.3" font-size="5" fill="#111" text-anchor="middle" font-weight="bold" transform="rotate(-45 205.15 636.3)" dominant-baseline="central" stroke="#111" stroke-width="0.2">NS</text>
<text x="220" y="636.3" font-size="5" fill="#111" text-anchor="middle" font-weight="bold" transform="rotate(-45 220 636.3)" dominant-baseline="central" stroke="#111" stroke-width="0.2">1h</text>
<text x="234.85" y="636.3" font-size="5" fill="#111" text-anchor="middle" font-weight="bold" transform="rotate(-45 234.85 636.3)" dominant-baseline="central" stroke="#111" stroke-width="0.2">2h</text>
<text x="249.7" y="636.3" font-size="5" fill="#111" text-anchor="middle" font-weight="bold" transform="rotate(-45 249.7 636.3)" dominant-baseline="central" stroke="#111" stroke-width="0.2">8h</text>
<text x="7" y="654.7" font-size="5.2" fill="#222" text-anchor="middle" font-weight="bold" textLength="41.4" lengthAdjust="spacingAndGlyphs" transform="rotate(-90 7 654.7)">Fold induction</text>
<text x="7" y="689.1" font-size="5.2" fill="#222" text-anchor="middle" font-weight="bold" textLength="16.2" lengthAdjust="spacingAndGlyphs" transform="rotate(-90 7 689.1)">CXCL9</text>
<circle cx="26.15" cy="769" r="0.95" fill="#222"/>
<circle cx="27.65" cy="769" r="0.95" fill="#222"/>
<circle cx="29.15" cy="768.5" r="0.95" fill="#222"/>
<circle cx="30.65" cy="769.5" r="0.95" fill="#222"/>
<circle cx="32.15" cy="769" r="0.95" fill="#222"/>
<circle cx="29.15" cy="764.8" r="0.95" fill="#222"/>
<line x1="24.65" y1="769" x2="33.65" y2="769" stroke="#111" stroke-width="1.2"/>
<circle cx="44" cy="697.8" r="0.95" fill="#222"/>
<circle cx="44" cy="704" r="0.95" fill="#222"/>
<circle cx="44" cy="711.3" r="0.95" fill="#222"/>
<circle cx="44" cy="717.5" r="0.95" fill="#222"/>
<circle cx="44" cy="723.1" r="0.95" fill="#222"/>
<circle cx="43.2" cy="735" r="0.95" fill="#222"/>
<circle cx="44.8" cy="736.9" r="0.95" fill="#222"/>
<circle cx="44" cy="741.9" r="0.95" fill="#222"/>
<circle cx="44.6" cy="744.4" r="0.95" fill="#222"/>
<circle cx="43.2" cy="756.9" r="0.95" fill="#222"/>
<circle cx="44.8" cy="758.1" r="0.95" fill="#222"/>
<circle cx="42.5" cy="738" r="0.95" fill="#222"/>
<circle cx="43.5" cy="745" r="0.95" fill="#222"/>
<line x1="38.7" y1="731.9" x2="49.3" y2="731.9" stroke="#111" stroke-width="1.1"/>
<circle cx="58.85" cy="674" r="0.95" fill="#222"/>
<circle cx="58.85" cy="681.9" r="0.95" fill="#222"/>
<circle cx="58.85" cy="689.8" r="0.95" fill="#222"/>
<circle cx="58.85" cy="719.4" r="0.95" fill="#222"/>
<circle cx="58.85" cy="728.8" r="0.95" fill="#222"/>
<circle cx="57.85" cy="735" r="0.95" fill="#222"/>
<circle cx="59.85" cy="736.3" r="0.95" fill="#222"/>
<circle cx="58.85" cy="738.1" r="0.95" fill="#222"/>
<circle cx="57.85" cy="740" r="0.95" fill="#222"/>
<circle cx="59.85" cy="741.9" r="0.95" fill="#222"/>
<circle cx="58.35" cy="745.6" r="0.95" fill="#222"/>
<circle cx="59.35" cy="746.9" r="0.95" fill="#222"/>
<line x1="53.55" y1="726.3" x2="64.15" y2="726.3" stroke="#111" stroke-width="1.1"/>
<circle cx="71.1" cy="665.6" r="0.95" fill="#222"/>
<circle cx="73.9" cy="666.8" r="0.95" fill="#222"/>
<circle cx="76.5" cy="665.2" r="0.95" fill="#222"/>
<circle cx="73.7" cy="672.9" r="0.95" fill="#222"/>
<circle cx="73.7" cy="679.4" r="0.95" fill="#222"/>
<circle cx="73.7" cy="730" r="0.95" fill="#222"/>
<circle cx="72.9" cy="732.5" r="0.95" fill="#222"/>
<circle cx="74.5" cy="739.4" r="0.95" fill="#222"/>
<circle cx="73.7" cy="741.9" r="0.95" fill="#222"/>
<circle cx="72.2" cy="639.8" r="0.95" fill="#222"/>
<circle cx="74" cy="640.8" r="0.95" fill="#222"/>
<circle cx="75.5" cy="639" r="0.95" fill="#222"/>
<line x1="68.7" y1="670" x2="78.7" y2="670" stroke="#111" stroke-width="1.1"/>
<line x1="84.55" y1="769" x2="92.55" y2="769" stroke="#111" stroke-width="1"/>
<circle cx="86.55" cy="769" r="0.95" fill="#222"/>
<circle cx="88.55" cy="769" r="0.95" fill="#222"/>
<circle cx="90.55" cy="769" r="0.95" fill="#222"/>
<line x1="99.4" y1="762.3" x2="107.4" y2="762.3" stroke="#111" stroke-width="1"/>
<circle cx="101.4" cy="762.5" r="0.95" fill="#222"/>
<circle cx="103.4" cy="763.2" r="0.95" fill="#222"/>
<circle cx="105.4" cy="762" r="0.95" fill="#222"/>
<circle cx="103.4" cy="758.1" r="1.25" fill="#e03a48"/>
<line x1="114.25" y1="753.1" x2="122.25" y2="753.1" stroke="#111" stroke-width="1"/>
<circle cx="116.25" cy="753.3" r="0.95" fill="#222"/>
<circle cx="118.25" cy="754" r="0.95" fill="#222"/>
<circle cx="120.25" cy="752.8" r="0.95" fill="#222"/>
<circle cx="114.65" cy="748.5" r="1.25" fill="#e03a48"/>
<circle cx="118.25" cy="748.5" r="1.25" fill="#e03a48"/>
<circle cx="121.85" cy="748.5" r="1.25" fill="#e03a48"/>
<line x1="128.5" y1="720.6" x2="137.7" y2="720.6" stroke="#111" stroke-width="1"/>
<circle cx="133.1" cy="715" r="0.95" fill="#222"/>
<circle cx="133.1" cy="726.3" r="0.95" fill="#222"/>
<line x1="143.95" y1="768.8" x2="151.95" y2="768.8" stroke="#111" stroke-width="1"/>
<circle cx="145.95" cy="768.5" r="0.95" fill="#222"/>
<circle cx="147.95" cy="769.5" r="0.95" fill="#222"/>
<circle cx="149.45" cy="767.5" r="0.95" fill="#222"/>
<circle cx="147.95" cy="766.5" r="0.95" fill="#222"/>
<line x1="158.2" y1="761.5" x2="167.4" y2="761.5" stroke="#111" stroke-width="1"/>
<circle cx="161.3" cy="758.1" r="0.95" fill="#222"/>
<circle cx="162.8" cy="758.5" r="0.95" fill="#222"/>
<circle cx="164.3" cy="759" r="0.95" fill="#222"/>
<circle cx="162.8" cy="763.8" r="0.95" fill="#222"/>
<circle cx="162.8" cy="765.5" r="0.95" fill="#222"/>
<circle cx="162.8" cy="767.5" r="0.95" fill="#222"/>
<circle cx="159.2" cy="754" r="1.25" fill="#e03a48"/>
<circle cx="162.8" cy="754" r="1.25" fill="#e03a48"/>
<circle cx="166.4" cy="754" r="1.25" fill="#e03a48"/>
<line x1="173.45" y1="765.6" x2="181.85" y2="765.6" stroke="#111" stroke-width="1"/>
<circle cx="177.65" cy="762.5" r="0.95" fill="#222"/>
<circle cx="176.15" cy="764.5" r="0.95" fill="#222"/>
<circle cx="179.15" cy="765.5" r="0.95" fill="#222"/>
<circle cx="177.65" cy="766.5" r="0.95" fill="#222"/>
<circle cx="176.65" cy="767.5" r="0.95" fill="#222"/>
<circle cx="174.05" cy="757.5" r="1.25" fill="#e03a48"/>
<circle cx="177.65" cy="757.5" r="1.25" fill="#e03a48"/>
<circle cx="181.25" cy="757.5" r="1.25" fill="#e03a48"/>
<line x1="188.1" y1="762.3" x2="196.9" y2="762.3" stroke="#111" stroke-width="1"/>
<circle cx="191.5" cy="759.3" r="0.95" fill="#222"/>
<circle cx="193.5" cy="760" r="0.95" fill="#222"/>
<circle cx="191" cy="763" r="0.95" fill="#222"/>
<circle cx="194" cy="764.5" r="0.95" fill="#222"/>
<circle cx="192.5" cy="766" r="0.95" fill="#222"/>
<circle cx="188.9" cy="754" r="1.25" fill="#e03a48"/>
<circle cx="192.5" cy="754" r="1.25" fill="#e03a48"/>
<circle cx="196.1" cy="754" r="1.25" fill="#e03a48"/>
<line x1="203.75" y1="769.3" x2="210.95" y2="769.3" stroke="#111" stroke-width="1"/>
<circle cx="205.85" cy="769.3" r="0.95" fill="#222"/>
<circle cx="208.85" cy="769.3" r="0.95" fill="#222"/>
<line x1="218.4" y1="770.1" x2="226" y2="770.1" stroke="#111" stroke-width="1"/>
<circle cx="220.7" cy="770.3" r="0.95" fill="#222"/>
<circle cx="223.7" cy="770.5" r="0.95" fill="#222"/>
<circle cx="218.6" cy="766" r="1.25" fill="#e03a48"/>
<circle cx="222.2" cy="766" r="1.25" fill="#e03a48"/>
<circle cx="225.8" cy="766" r="1.25" fill="#e03a48"/>
<line x1="233.25" y1="770.1" x2="240.85" y2="770.1" stroke="#111" stroke-width="1"/>
<circle cx="235.55" cy="770.3" r="0.95" fill="#222"/>
<circle cx="238.55" cy="770.5" r="0.95" fill="#222"/>
<circle cx="233.45" cy="766" r="1.25" fill="#e03a48"/>
<circle cx="237.05" cy="766" r="1.25" fill="#e03a48"/>
<circle cx="240.65" cy="766" r="1.25" fill="#e03a48"/>
<line x1="248.1" y1="768.4" x2="255.7" y2="768.4" stroke="#111" stroke-width="1"/>
<circle cx="250.4" cy="767.7" r="0.95" fill="#222"/>
<circle cx="253.4" cy="767.9" r="0.95" fill="#222"/>
<circle cx="248.3" cy="763.4" r="1.25" fill="#e03a48"/>
<circle cx="251.9" cy="763.4" r="1.25" fill="#e03a48"/>
<circle cx="255.5" cy="763.4" r="1.25" fill="#e03a48"/>
<text x="263.8" y="629.2" font-size="12.8" fill="#000" stroke="#000" stroke-width="0.35" font-weight="bold" textLength="8" lengthAdjust="spacingAndGlyphs">F</text>
<line x1="338.2" y1="641" x2="338.2" y2="771.5" stroke="#efefef" stroke-width="0.8"/>
<line x1="397.6" y1="641" x2="397.6" y2="771.5" stroke="#efefef" stroke-width="0.8"/>
<line x1="456.8" y1="641" x2="456.8" y2="771.5" stroke="#efefef" stroke-width="0.8"/>
<line x1="278.6" y1="633.6" x2="278.6" y2="772.6" stroke="#333" stroke-width="1"/>
<line x1="276.8" y1="772.6" x2="278.6" y2="772.6" stroke="#333" stroke-width="0.7"/>
<line x1="276.8" y1="763.35" x2="278.6" y2="763.35" stroke="#333" stroke-width="0.7"/>
<line x1="276.8" y1="754.09" x2="278.6" y2="754.09" stroke="#333" stroke-width="0.7"/>
<line x1="276.8" y1="744.84" x2="278.6" y2="744.84" stroke="#333" stroke-width="0.7"/>
<line x1="276.8" y1="735.58" x2="278.6" y2="735.58" stroke="#333" stroke-width="0.7"/>
<line x1="276.8" y1="726.33" x2="278.6" y2="726.33" stroke="#333" stroke-width="0.7"/>
<line x1="276.8" y1="717.08" x2="278.6" y2="717.08" stroke="#333" stroke-width="0.7"/>
<line x1="276.8" y1="707.82" x2="278.6" y2="707.82" stroke="#333" stroke-width="0.7"/>
<line x1="276.8" y1="698.57" x2="278.6" y2="698.57" stroke="#333" stroke-width="0.7"/>
<line x1="276.8" y1="689.31" x2="278.6" y2="689.31" stroke="#333" stroke-width="0.7"/>
<line x1="276.8" y1="680.06" x2="278.6" y2="680.06" stroke="#333" stroke-width="0.7"/>
<line x1="276.8" y1="670.81" x2="278.6" y2="670.81" stroke="#333" stroke-width="0.7"/>
<line x1="276.8" y1="661.55" x2="278.6" y2="661.55" stroke="#333" stroke-width="0.7"/>
<line x1="276.8" y1="652.3" x2="278.6" y2="652.3" stroke="#333" stroke-width="0.7"/>
<line x1="276.8" y1="643.04" x2="278.6" y2="643.04" stroke="#333" stroke-width="0.7"/>
<line x1="276.8" y1="633.79" x2="278.6" y2="633.79" stroke="#333" stroke-width="0.7"/>
<text x="276.2" y="774.8" font-size="4.8" fill="#222" stroke="#222" stroke-width="0.2" text-anchor="end" font-weight="bold">0</text>
<text x="276.2" y="728.53" font-size="4.8" fill="#222" stroke="#222" stroke-width="0.2" text-anchor="end" font-weight="bold">10</text>
<text x="276.2" y="682.26" font-size="4.8" fill="#222" stroke="#222" stroke-width="0.2" text-anchor="end" font-weight="bold">20</text>
<text x="276.2" y="635.99" font-size="4.8" fill="#222" stroke="#222" stroke-width="0.2" text-anchor="end" font-weight="bold">30</text>
<line x1="278.6" y1="772" x2="516.3" y2="772" stroke="#222" stroke-width="1.2"/>
<line x1="286.4" y1="772" x2="286.4" y2="774.6" stroke="#333" stroke-width="0.8"/>
<line x1="301.2" y1="772" x2="301.2" y2="774.6" stroke="#333" stroke-width="0.8"/>
<line x1="316" y1="772" x2="316" y2="774.6" stroke="#333" stroke-width="0.8"/>
<line x1="330.8" y1="772" x2="330.8" y2="774.6" stroke="#333" stroke-width="0.8"/>
<line x1="345.6" y1="772" x2="345.6" y2="774.6" stroke="#333" stroke-width="0.8"/>
<line x1="360.4" y1="772" x2="360.4" y2="774.6" stroke="#333" stroke-width="0.8"/>
<line x1="375.2" y1="772" x2="375.2" y2="774.6" stroke="#333" stroke-width="0.8"/>
<line x1="390" y1="772" x2="390" y2="774.6" stroke="#333" stroke-width="0.8"/>
<line x1="404.8" y1="772" x2="404.8" y2="774.6" stroke="#333" stroke-width="0.8"/>
<line x1="419.6" y1="772" x2="419.6" y2="774.6" stroke="#333" stroke-width="0.8"/>
<line x1="434.4" y1="772" x2="434.4" y2="774.6" stroke="#333" stroke-width="0.8"/>
<line x1="449.2" y1="772" x2="449.2" y2="774.6" stroke="#333" stroke-width="0.8"/>
<line x1="464" y1="772" x2="464" y2="774.6" stroke="#333" stroke-width="0.8"/>
<line x1="478.8" y1="772" x2="478.8" y2="774.6" stroke="#333" stroke-width="0.8"/>
<line x1="493.6" y1="772" x2="493.6" y2="774.6" stroke="#333" stroke-width="0.8"/>
<line x1="508.4" y1="772" x2="508.4" y2="774.6" stroke="#333" stroke-width="0.8"/>
<text x="308.8" y="780.5" font-size="5.5" fill="#111" stroke="#111" stroke-width="0.25" text-anchor="middle" textLength="16.5" lengthAdjust="spacingAndGlyphs">WT/WT</text>
<text x="367.5" y="780.5" font-size="5.5" fill="#111" stroke="#111" stroke-width="0.25" text-anchor="middle" textLength="4" lengthAdjust="spacingAndGlyphs">P1</text>
<text x="427.7" y="780.5" font-size="5.5" fill="#111" stroke="#111" stroke-width="0.25" text-anchor="middle" textLength="30.6" lengthAdjust="spacingAndGlyphs">P696S/P696S</text>
<text x="489.6" y="780.5" font-size="5.5" fill="#111" stroke="#111" stroke-width="0.25" text-anchor="middle" textLength="3.5" lengthAdjust="spacingAndGlyphs">-/-</text>
<text x="284.2" y="634" font-size="5" fill="#111" text-anchor="middle" font-weight="bold" transform="rotate(-45 284.2 634)" dominant-baseline="central" stroke="#111" stroke-width="0.2">NS</text>
<text x="299" y="634" font-size="5" fill="#111" text-anchor="middle" font-weight="bold" transform="rotate(-45 299 634)" dominant-baseline="central" stroke="#111" stroke-width="0.2">1h</text>
<text x="313.8" y="634" font-size="5" fill="#111" text-anchor="middle" font-weight="bold" transform="rotate(-45 313.8 634)" dominant-baseline="central" stroke="#111" stroke-width="0.2">2h</text>
<text x="328.6" y="634" font-size="5" fill="#111" text-anchor="middle" font-weight="bold" transform="rotate(-45 328.6 634)" dominant-baseline="central" stroke="#111" stroke-width="0.2">8h</text>
<text x="343.4" y="634" font-size="5" fill="#111" text-anchor="middle" font-weight="bold" transform="rotate(-45 343.4 634)" dominant-baseline="central" stroke="#111" stroke-width="0.2">NS</text>
<text x="358.2" y="634" font-size="5" fill="#111" text-anchor="middle" font-weight="bold" transform="rotate(-45 358.2 634)" dominant-baseline="central" stroke="#111" stroke-width="0.2">1h</text>
<text x="373" y="634" font-size="5" fill="#111" text-anchor="middle" font-weight="bold" transform="rotate(-45 373 634)" dominant-baseline="central" stroke="#111" stroke-width="0.2">2h</text>
<text x="387.8" y="634" font-size="5" fill="#111" text-anchor="middle" font-weight="bold" transform="rotate(-45 387.8 634)" dominant-baseline="central" stroke="#111" stroke-width="0.2">8h</text>
<text x="402.6" y="634" font-size="5" fill="#111" text-anchor="middle" font-weight="bold" transform="rotate(-45 402.6 634)" dominant-baseline="central" stroke="#111" stroke-width="0.2">NS</text>
<text x="417.4" y="634" font-size="5" fill="#111" text-anchor="middle" font-weight="bold" transform="rotate(-45 417.4 634)" dominant-baseline="central" stroke="#111" stroke-width="0.2">1h</text>
<text x="432.2" y="634" font-size="5" fill="#111" text-anchor="middle" font-weight="bold" transform="rotate(-45 432.2 634)" dominant-baseline="central" stroke="#111" stroke-width="0.2">2h</text>
<text x="447" y="634" font-size="5" fill="#111" text-anchor="middle" font-weight="bold" transform="rotate(-45 447 634)" dominant-baseline="central" stroke="#111" stroke-width="0.2">8h</text>
<text x="461.8" y="634" font-size="5" fill="#111" text-anchor="middle" font-weight="bold" transform="rotate(-45 461.8 634)" dominant-baseline="central" stroke="#111" stroke-width="0.2">NS</text>
<text x="476.6" y="634" font-size="5" fill="#111" text-anchor="middle" font-weight="bold" transform="rotate(-45 476.6 634)" dominant-baseline="central" stroke="#111" stroke-width="0.2">1h</text>
<text x="491.4" y="634" font-size="5" fill="#111" text-anchor="middle" font-weight="bold" transform="rotate(-45 491.4 634)" dominant-baseline="central" stroke="#111" stroke-width="0.2">2h</text>
<text x="506.2" y="634" font-size="5" fill="#111" text-anchor="middle" font-weight="bold" transform="rotate(-45 506.2 634)" dominant-baseline="central" stroke="#111" stroke-width="0.2">8h</text>
<text x="267.6" y="654" font-size="5.2" fill="#222" text-anchor="middle" font-weight="bold" textLength="40.4" lengthAdjust="spacingAndGlyphs" transform="rotate(-90 267.6 654)">Fold induction</text>
<text x="267.6" y="693" font-size="5.2" fill="#222" text-anchor="middle" font-weight="bold" textLength="8.5" lengthAdjust="spacingAndGlyphs" transform="rotate(-90 267.6 693)">IFIT1</text>
<line x1="281.4" y1="767.3" x2="291.4" y2="767.3" stroke="#111" stroke-width="1.6"/>
<circle cx="282.4" cy="767.3" r="0.95" fill="#222"/>
<circle cx="284.4" cy="767.3" r="0.95" fill="#222"/>
<circle cx="286.4" cy="767.3" r="0.95" fill="#222"/>
<circle cx="288.4" cy="767.3" r="0.95" fill="#222"/>
<circle cx="290.4" cy="767.3" r="0.95" fill="#222"/>
<circle cx="301.2" cy="713.8" r="0.95" fill="#222"/>
<circle cx="301.2" cy="715.6" r="0.95" fill="#222"/>
<circle cx="301.2" cy="717.4" r="0.95" fill="#222"/>
<circle cx="301.2" cy="719.5" r="0.95" fill="#222"/>
<circle cx="301.2" cy="727.1" r="0.95" fill="#222"/>
<circle cx="301.2" cy="729.1" r="0.95" fill="#222"/>
<circle cx="301.2" cy="731.1" r="0.95" fill="#222"/>
<circle cx="301.2" cy="732.8" r="0.95" fill="#222"/>
<circle cx="301.2" cy="737.3" r="0.95" fill="#222"/>
<circle cx="301.2" cy="745.7" r="0.95" fill="#222"/>
<circle cx="301.2" cy="752.7" r="0.95" fill="#222"/>
<circle cx="300.2" cy="757" r="0.95" fill="#222"/>
<circle cx="302.2" cy="758.3" r="0.95" fill="#222"/>
<circle cx="299.9" cy="759.6" r="0.95" fill="#222"/>
<circle cx="302" cy="761.2" r="0.95" fill="#222"/>
<circle cx="302.4" cy="756" r="0.95" fill="#222"/>
<circle cx="303" cy="760" r="0.95" fill="#222"/>
<line x1="295.9" y1="742.1" x2="306.5" y2="742.1" stroke="#111" stroke-width="1.1"/>
<circle cx="316" cy="681.3" r="0.95" fill="#222"/>
<circle cx="316" cy="686" r="0.95" fill="#222"/>
<circle cx="316" cy="695.3" r="0.95" fill="#222"/>
<circle cx="316" cy="701" r="0.95" fill="#222"/>
<circle cx="316" cy="706.5" r="0.95" fill="#222"/>
<circle cx="316" cy="735" r="0.95" fill="#222"/>
<circle cx="316" cy="738.4" r="0.95" fill="#222"/>
<circle cx="316" cy="741.7" r="0.95" fill="#222"/>
<circle cx="315.2" cy="747.7" r="0.95" fill="#222"/>
<circle cx="316.8" cy="750.3" r="0.95" fill="#222"/>
<circle cx="314.5" cy="753" r="0.95" fill="#222"/>
<circle cx="316.5" cy="755" r="0.95" fill="#222"/>
<circle cx="317.8" cy="752" r="0.95" fill="#222"/>
<line x1="310.7" y1="724.4" x2="321.3" y2="724.4" stroke="#111" stroke-width="1.1"/>
<circle cx="330.8" cy="721.1" r="0.95" fill="#222"/>
<circle cx="330.8" cy="727.5" r="0.95" fill="#222"/>
<circle cx="330.8" cy="733.1" r="0.95" fill="#222"/>
<circle cx="330" cy="735.7" r="0.95" fill="#222"/>
<circle cx="331.3" cy="737.7" r="0.95" fill="#222"/>
<circle cx="329.3" cy="752.3" r="0.95" fill="#222"/>
<circle cx="332" cy="753.6" r="0.95" fill="#222"/>
<circle cx="330.8" cy="755.6" r="0.95" fill="#222"/>
<circle cx="329.8" cy="762.2" r="0.95" fill="#222"/>
<circle cx="332.3" cy="763.6" r="0.95" fill="#222"/>
<circle cx="331.3" cy="750.5" r="0.95" fill="#222"/>
<circle cx="333" cy="754.5" r="0.95" fill="#222"/>
<line x1="325.7" y1="747" x2="335.9" y2="747" stroke="#111" stroke-width="1.1"/>
<line x1="341.6" y1="766.9" x2="349.6" y2="766.9" stroke="#111" stroke-width="1"/>
<circle cx="343.6" cy="766.9" r="0.95" fill="#222"/>
<circle cx="345.6" cy="766.9" r="0.95" fill="#222"/>
<circle cx="347.6" cy="766.9" r="0.95" fill="#222"/>
<line x1="356.1" y1="715.8" x2="364.7" y2="715.8" stroke="#111" stroke-width="1"/>
<circle cx="360.4" cy="711.1" r="0.95" fill="#222"/>
<circle cx="360.4" cy="720.3" r="0.95" fill="#222"/>
<line x1="370.9" y1="657.5" x2="379.5" y2="657.5" stroke="#111" stroke-width="1"/>
<circle cx="375.2" cy="654.5" r="0.95" fill="#222"/>
<circle cx="375.2" cy="661" r="0.95" fill="#222"/>
<line x1="385.7" y1="677.1" x2="394.3" y2="677.1" stroke="#111" stroke-width="1"/>
<circle cx="390" cy="669.9" r="0.95" fill="#222"/>
<circle cx="390" cy="683.6" r="0.95" fill="#222"/>
<line x1="400.8" y1="767.3" x2="408.8" y2="767.3" stroke="#111" stroke-width="1"/>
<circle cx="402.8" cy="767.3" r="0.95" fill="#222"/>
<circle cx="404.8" cy="767.3" r="0.95" fill="#222"/>
<circle cx="406.8" cy="767.3" r="0.95" fill="#222"/>
<line x1="414.6" y1="761.3" x2="424.6" y2="761.3" stroke="#111" stroke-width="1"/>
<circle cx="418.1" cy="756.9" r="0.95" fill="#222"/>
<circle cx="419.6" cy="756.9" r="0.95" fill="#222"/>
<circle cx="421.1" cy="756.3" r="0.95" fill="#222"/>
<circle cx="418.1" cy="765.6" r="0.95" fill="#222"/>
<circle cx="419.6" cy="765.6" r="0.95" fill="#222"/>
<circle cx="421.1" cy="766.2" r="0.95" fill="#222"/>
<circle cx="419.6" cy="752.9" r="1.25" fill="#e03a48"/>
<line x1="429.4" y1="757.3" x2="439.4" y2="757.3" stroke="#111" stroke-width="1"/>
<circle cx="432.6" cy="751.3" r="0.95" fill="#222"/>
<circle cx="434.4" cy="751.3" r="0.95" fill="#222"/>
<circle cx="436.2" cy="750.5" r="0.95" fill="#222"/>
<circle cx="432.6" cy="763.1" r="0.95" fill="#222"/>
<circle cx="434.4" cy="763.1" r="0.95" fill="#222"/>
<circle cx="436.2" cy="763.1" r="0.95" fill="#222"/>
<circle cx="434.4" cy="747.3" r="1.25" fill="#e03a48"/>
<line x1="444.6" y1="762.5" x2="453.8" y2="762.5" stroke="#111" stroke-width="1"/>
<circle cx="447.4" cy="759.8" r="0.95" fill="#222"/>
<circle cx="449.2" cy="759.8" r="0.95" fill="#222"/>
<circle cx="451" cy="759.2" r="0.95" fill="#222"/>
<circle cx="447.4" cy="765.3" r="0.95" fill="#222"/>
<circle cx="449.2" cy="765.3" r="0.95" fill="#222"/>
<circle cx="451" cy="765.3" r="0.95" fill="#222"/>
<circle cx="449.2" cy="753.8" r="1.25" fill="#e03a48"/>
<line x1="460.2" y1="767.3" x2="467.8" y2="767.3" stroke="#111" stroke-width="1"/>
<circle cx="462.5" cy="767.3" r="0.95" fill="#222"/>
<circle cx="464" cy="767.3" r="0.95" fill="#222"/>
<circle cx="465.5" cy="767.3" r="0.95" fill="#222"/>
<line x1="474.8" y1="767.5" x2="482.8" y2="767.5" stroke="#111" stroke-width="1"/>
<circle cx="476.8" cy="767.7" r="0.95" fill="#222"/>
<circle cx="478.8" cy="767.7" r="0.95" fill="#222"/>
<circle cx="480.8" cy="767.7" r="0.95" fill="#222"/>
<circle cx="475.2" cy="764" r="1.25" fill="#e03a48"/>
<circle cx="478.8" cy="764" r="1.25" fill="#e03a48"/>
<circle cx="482.4" cy="764" r="1.25" fill="#e03a48"/>
<line x1="489.6" y1="767.5" x2="497.6" y2="767.5" stroke="#111" stroke-width="1"/>
<circle cx="491.6" cy="767.7" r="0.95" fill="#222"/>
<circle cx="493.6" cy="767.7" r="0.95" fill="#222"/>
<circle cx="495.6" cy="767.7" r="0.95" fill="#222"/>
<circle cx="490" cy="764" r="1.25" fill="#e03a48"/>
<circle cx="493.6" cy="764" r="1.25" fill="#e03a48"/>
<circle cx="497.2" cy="764" r="1.25" fill="#e03a48"/>
<line x1="504.4" y1="767.5" x2="512.4" y2="767.5" stroke="#111" stroke-width="1"/>
<circle cx="506.4" cy="767.7" r="0.95" fill="#222"/>
<circle cx="508.4" cy="767.7" r="0.95" fill="#222"/>
<circle cx="510.4" cy="767.7" r="0.95" fill="#222"/>
<circle cx="504.8" cy="764" r="1.25" fill="#e03a48"/>
<circle cx="508.4" cy="764" r="1.25" fill="#e03a48"/>
<circle cx="512" cy="764" r="1.25" fill="#e03a48"/>
</svg>
</body></html>
